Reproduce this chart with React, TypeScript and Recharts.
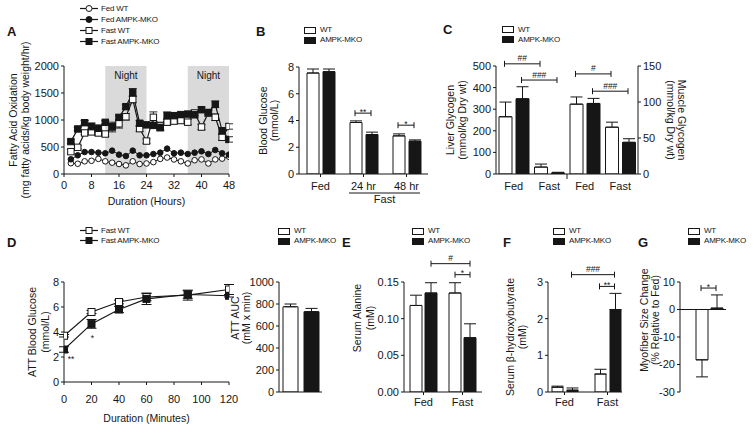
import React from "react";
import {
  LineChart, Line, BarChart, Bar, ComposedChart, XAxis, YAxis,
  ReferenceArea, ReferenceLine, ErrorBar, LabelList,
} from "recharts";

const FONT = '"Liberation Sans", Arial, Helvetica, sans-serif';
const INK = "#161616";
const SHADE = "#dadada";
const TICK = { fontSize: 11, fill: INK };

// ---------- A: fatty acid oxidation, every 2 h ----------
const hours = [2, 4, 6, 8, 10, 12, 14, 16, 18, 20, 22, 24, 26, 28, 30, 32, 34, 36, 38, 40, 42, 44, 46, 48];
const fedWT = [200, 190, 235, 245, 280, 235, 210, 185, 160, 235, 185, 195, 220, 280, 305, 270, 235, 195, 255, 270, 195, 270, 285, 320];
const fedKO = [272, 346, 407, 407, 395, 383, 432, 358, 333, 432, 346, 346, 370, 395, 469, 383, 395, 370, 395, 420, 370, 444, 383, 358];
const fastWT = [414, 494, 760, 780, 760, 740, 870, 930, 1060, 1380, 840, 610, 1050, 890, 960, 980, 990, 960, 1130, 870, 1130, 1050, 680, 880];
const fastWTErr = [40, 30, 30, 50, 50, 40, 90, 80, 60, 60, 50, 40, 100, 70, 60, 50, 50, 50, 50, 50, 60, 60, 60, 50];
const fastKO = [600, 834, 950, 876, 846, 957, 876, 1049, 1247, 1512, 940, 910, 900, 860, 1080, 1080, 1100, 1110, 1100, 1190, 1140, 1290, 800, 640];
const fastKOErr = [30, 30, 40, 70, 60, 30, 50, 40, 40, 70, 50, 40, 50, 60, 70, 60, 40, 40, 60, 50, 40, 60, 60, 50];
const aXTicks = [0, 8, 16, 24, 32, 40, 48];
const aYTicks = [0, 500, 1000, 1500, 2000];
const nights = [[12, 24], [36, 48]];

// ---------- B: blood glucose ----------
const bCats = ["Fed", "24 hr", "48 hr"];
const bWT = [7.55, 3.85, 2.85];
const bWTErr = [0.3, 0.12, 0.15];
const bKO = [7.65, 2.95, 2.45];
const bKOErr = [0.2, 0.18, 0.1];
const bYTicks = [0, 2, 4, 6, 8];
const bMarks = [
  { from: [1, 0], to: [1, 1], y: 4.55, text: "**" },
  { from: [2, 0], to: [2, 1], y: 3.65, text: "*" },
];

// ---------- C: liver / muscle glycogen ----------
const cCats = ["Fed", "Fast", "Fed", "Fast"];
const liverWT = [265, 32];
const liverWTErr = [68, 14];
const liverKO = [348, 5];
const liverKOErr = [56, 3];
const muscleWT = [97, 65];
const muscleWTErr = [10, 7];
const muscleKO = [98, 44];
const muscleKOErr = [7, 5];
const cLeftTicks = [0, 100, 200, 300, 400, 500];
const cRightTicks = [0, 50, 100, 150];
const cMarks = [
  { from: [0, 0], to: [1, 0], y: 510, text: "##" },
  { from: [0, 1], to: [1, 1], y: 435, text: "###" },
  { from: [2, 0], to: [3, 0], y: 139, text: "#", axis: "r" },
  { from: [2, 1], to: [3, 1], y: 115, text: "###", axis: "r" },
];

// ---------- D: alanine tolerance test ----------
const dMinutes = [0, 20, 40, 60, 90, 120];
const dWT = [3.7, 5.6, 6.4, 6.8, 6.95, 7.4];
const dWTErr = [0.1, 0.12, 0.15, 0.3, 0.4, 0.4];
const dKO = [2.6, 4.65, 5.8, 6.65, 7.0, 6.9];
const dKOErr = [0.22, 0.35, 0.25, 0.45, 0.3, 0.1];
const dSig = ["**", "*", "", "", "", ""];
const dXTicks = [0, 20, 40, 60, 80, 100, 120];
const dYTicks = [0, 2, 4, 6, 8];

const aucCats = [""];
const aucWT = [775];
const aucWTErr = [25];
const aucKO = [730];
const aucKOErr = [30];
const aucTicks = [0, 200, 400, 600, 800, 1000];

// ---------- E: serum alanine ----------
const eCats = ["Fed", "Fast"];
const eWT = [0.118, 0.135];
const eWTErr = [0.014, 0.014];
const eKO = [0.135, 0.074];
const eKOErr = [0.014, 0.019];
const eTicks = [0, 0.05, 0.1, 0.15];
const eMarks = [
  { from: [0, 1], to: [1, 1], y: 0.175, text: "#" },
  { from: [1, 0], to: [1, 1], y: 0.16, text: "*" },
];

// ---------- F: beta-hydroxybutyrate ----------
const fCats = ["Fed", "Fast"];
const fWT = [0.13, 0.49];
const fWTErr = [0.03, 0.13];
const fKO = [0.05, 2.25];
const fKOErr = [0.06, 0.44];
const fTicks = [0, 1, 2, 3];
const fMarks = [
  { from: [0, 1], to: [1, 1], y: 3.2, text: "###" },
  { from: [1, 0], to: [1, 1], y: 2.88, text: "**" },
];

// ---------- G: myofiber size ----------
const gWT = [-18.3];
const gWTErr = [6.2];
const gKO = [0.5];
const gKOErr = [4.8];
const gTicks = [-30, -20, -10, 0, 10];
const gMarks = [{ from: [0, 0], to: [0, 1], y: 7.8, text: "*" }];

// centre of a bar, in px from the plot's left edge (same rule recharts uses for barSize/barGap)
function barMid(g: any, cat: number, s: number) {
  const band = (g.pw - g.padL - g.padR) / g.n;
  const off = Math.floor((band - 2 * g.bar - g.gap) / 2);
  return g.padL + cat * band + off + g.bar / 2 + s * (g.bar + g.gap);
}

// significance bracket: ReferenceLine gives the y from the axis scale and the plot edges
const bracket = (m: any, g: any) => (p: any) => {
  const left = Math.min(p.x1, p.x2);
  const y = p.y1;
  const xa = left + barMid(g, m.from[0], m.from[1]);
  const xb = left + barMid(g, m.to[0], m.to[1]);
  const star = m.text.includes("*");
  return (
    <g>
      <line x1={xa} x2={xb} y1={y} y2={y} stroke={INK} />
      <line x1={xa} x2={xa} y1={y - 3} y2={y + 3} stroke={INK} />
      <line x1={xb} x2={xb} y1={y - 3} y2={y + 3} stroke={INK} />
      <text x={(xa + xb) / 2} y={star ? y + 1.5 : y - 2.5} textAnchor="middle" fontSize={8.5} fill={INK}>
        {m.text}
      </text>
    </g>
  );
};

function marks(list: any[], g: any) {
  return list.map((m, i) => (
    <ReferenceLine key={"mk" + i} y={m.y} yAxisId={m.axis ?? 0} ifOverflow="visible" shape={bracket(m, g)} />
  ));
}

// axis titles, placed in chart coordinates
const titles = (items: any[], cy: number) => () => (
  <g>
    {items.map(([t, x, rot]: any) => (
      <text
        key={t}
        x={x}
        y={cy}
        transform={`rotate(${rot ?? -90} ${x} ${cy})`}
        textAnchor="middle"
        dominantBaseline="central"
        fontSize={10.5}
        fill={INK}
      >
        {t}
      </text>
    ))}
  </g>
);

const xTitle = (text: string, x: number, y: number) => () => (
  <text x={x} y={y} textAnchor="middle" dominantBaseline="central" fontSize={10.5} fill={INK}>
    {text}
  </text>
);

const marker = (shape: string, filled: boolean, r: number) => (p: any) => {
  const { cx, cy, index } = p;
  if (cx == null || cy == null) return <g key={"m" + index} />;
  const fill = filled ? INK : "#fff";
  return shape === "circle" ? (
    <circle key={"m" + index} cx={cx} cy={cy} r={r} fill={fill} stroke={INK} strokeWidth={1} />
  ) : (
    <rect key={"m" + index} x={cx - r} y={cy - r} width={2 * r} height={2 * r} fill={fill} stroke={INK} strokeWidth={1} />
  );
};

function Letter({ ch, x, y }: any) {
  return (
    <div style={{ position: "absolute", left: x, top: y - 2, fontSize: 13, fontWeight: 700, lineHeight: "13px" }}>{ch}</div>
  );
}

function LineKey({ left, top, rowH, items }: any) {
  return (
    <div style={{ position: "absolute", left, top, fontSize: 8, letterSpacing: -0.2 }}>
      {items.map((it: any) => (
        <div key={it.label} style={{ display: "flex", alignItems: "center", height: rowH }}>
          <svg width={18} height={9} style={{ display: "block" }}>
            <line x1={0} x2={18} y1={4.5} y2={4.5} stroke={INK} strokeWidth={1.2} />
            {it.shape === "circle" ? (
              <circle cx={9} cy={4.5} r={3} fill={it.filled ? INK : "#fff"} stroke={INK} />
            ) : (
              <rect x={6} y={1.5} width={6} height={6} fill={it.filled ? INK : "#fff"} stroke={INK} />
            )}
          </svg>
          <span style={{ marginLeft: 3, lineHeight: `${rowH}px` }}>{it.label}</span>
        </div>
      ))}
    </div>
  );
}

function BoxKey({ left, top }: any) {
  return (
    <div style={{ position: "absolute", left, top, fontSize: 8, letterSpacing: -0.2 }}>
      {[["WT", "#fff"], ["AMPK-MKO", INK]].map(([t, c]) => (
        <div key={t} style={{ display: "flex", alignItems: "center", height: 10 }}>
          <span style={{ width: 10, height: 5, border: `1px solid ${INK}`, background: c, display: "inline-block" }} />
          <span style={{ marginLeft: 4, lineHeight: "10px" }}>{t}</span>
        </div>
      ))}
    </div>
  );
}

function PanelA() {
  const data = hours.map((h, i) => ({
    h, fedWT: fedWT[i], fedKO: fedKO[i],
    fastWT: fastWT[i], fastWTErr: fastWTErr[i], fastKO: fastKO[i], fastKOErr: fastKOErr[i],
  }));
  return (
    <div style={{ position: "absolute", left: 0, top: 40 }}>
      <LineChart width={240} height={172} data={data} margin={{ top: 26, right: 11, bottom: 2, left: 0 }}>
        {nights.map(([a, b]) => (
          <ReferenceArea
            key={a}
            x1={a}
            x2={b}
            fill={SHADE}
            fillOpacity={1}
            stroke="none"
            label={{ value: "Night", position: "insideTop", offset: 6, fontSize: 10, fill: INK }}
          />
        ))}
        <XAxis
          dataKey="h" type="number" domain={[0, 48]} ticks={aXTicks} interval={0} allowDataOverflow
          height={36} stroke={INK} tickSize={3} tickMargin={4} tick={TICK}
          label={xTitle("Duration (Hours)", 146.5, 161)}
        />
        <YAxis
          domain={[0, 2000]} ticks={aYTicks} interval={0} allowDataOverflow width={64}
          stroke={INK} tickSize={3} tickMargin={2} tick={TICK}
          label={titles([["Fatty Acid Oxidation", 13], ["(mg fatty acids/kg body weight/hr)", 25]], 80)}
        />
        <Line dataKey="fedWT" stroke={INK} strokeWidth={1} dot={marker("circle", false, 2.8)} isAnimationActive={false} />
        <Line dataKey="fedKO" stroke={INK} strokeWidth={1} dot={marker("circle", true, 2.8)} isAnimationActive={false} />
        <Line dataKey="fastWT" stroke={INK} strokeWidth={1.2} dot={marker("square", false, 3.2)} isAnimationActive={false}>
          <ErrorBar dataKey="fastWTErr" width={4} stroke={INK} strokeWidth={0.9} direction="y" />
        </Line>
        <Line dataKey="fastKO" stroke={INK} strokeWidth={1.2} dot={marker("square", true, 3.2)} isAnimationActive={false}>
          <ErrorBar dataKey="fastKOErr" width={4} stroke={INK} strokeWidth={0.9} direction="y" />
        </Line>
      </LineChart>
    </div>
  );
}

const bGeo = { pw: 129, n: 3, bar: 12, gap: 4, padL: 0, padR: 0 };

function BTick(p: any) {
  const { x, y, payload, index } = p;
  const band = bGeo.pw / bGeo.n;
  const off = Math.floor((band - 2 * bGeo.bar - bGeo.gap) / 2);
  const span = 2 * bGeo.bar + bGeo.gap;
  const last = index === bCats.length - 1;
  const x1 = x - band - band / 2 + off;
  const x2 = x - band / 2 + off + span;
  return (
    <g>
      <text x={x} y={y} dy="0.71em" textAnchor="middle" fontSize={11} fill={INK}>{payload.value}</text>
      {last && <line x1={x1} x2={x2} y1={y + 11} y2={y + 11} stroke={INK} />}
      {last && (
        <text x={(x1 + x2) / 2} y={y + 13} dy="0.71em" textAnchor="middle" fontSize={11} fill={INK}>Fast</text>
      )}
    </g>
  );
}

function BarPanel(props: any) {
  const { left, top, width, height, mt, mr, yw, xh, cats, wt, wtErr, ko, koErr, domain, ticks, fmt,
    title, tick, tickMargin, noX, geo, list } = props;
  const rows = cats.map((name: string, i: number) => ({
    name, wt: wt[i], wtErr: [0, wtErr[i]], ko: ko[i], koErr: [0, koErr[i]],
  }));
  return (
    <div style={{ position: "absolute", left, top }}>
      <BarChart width={width} height={height} data={rows} margin={{ top: mt, right: mr, bottom: 2, left: 0 }}
        barSize={geo.bar} barGap={geo.gap}>
        <XAxis
          dataKey="name" height={xh} stroke={INK} interval={0}
          tickSize={3} tickMargin={tickMargin} tickLine={!noX}
          tick={noX ? false : tick ?? TICK}
          padding={{ left: geo.padL, right: geo.padR }}
        />
        <YAxis
          width={yw} domain={domain} ticks={ticks} interval={0} allowDataOverflow tickFormatter={fmt}
          stroke={INK} tickSize={3} tickMargin={2} tick={TICK} label={title}
        />
        <Bar dataKey="wt" fill="#fff" stroke={INK} strokeWidth={1} isAnimationActive={false}>
          <ErrorBar dataKey="wtErr" width={6} stroke={INK} strokeWidth={1} direction="y" />
        </Bar>
        <Bar dataKey="ko" fill={INK} stroke={INK} strokeWidth={1} isAnimationActive={false}>
          <ErrorBar dataKey="koErr" width={6} stroke={INK} strokeWidth={1} direction="y" />
        </Bar>
        {marks(list, geo)}
      </BarChart>
    </div>
  );
}

const cGeo = { pw: 142, n: 4, bar: 13, gap: 4, padL: 0, padR: 0 };

function CTick(p: any) {
  const { x, y, payload, index } = p;
  const band = cGeo.pw / cGeo.n;
  return (
    <g>
      <text x={x} y={y} dy="0.71em" textAnchor="middle" fontSize={11} fill={INK}>{payload.value}</text>
      {index === 2 && <line x1={x - band / 2} x2={x - band / 2} y1={y - 8} y2={y - 3} stroke={INK} />}
    </g>
  );
}

function PanelC() {
  const k = 500 / 150;
  const rows = cCats.map((name, i) =>
    i < 2
      ? { name, wt: liverWT[i], wtErr: [0, liverWTErr[i]], ko: liverKO[i], koErr: [0, liverKOErr[i]] }
      : {
          name,
          wt: muscleWT[i - 2] * k, wtErr: [0, muscleWTErr[i - 2] * k],
          ko: muscleKO[i - 2] * k, koErr: [0, muscleKOErr[i - 2] * k],
          muscle: muscleWT[i - 2],
        }
  );
  return (
    <div style={{ position: "absolute", left: 440, top: 40 }}>
      <ComposedChart width={258} height={158} data={rows} margin={{ top: 26, right: 0, bottom: 2, left: 0 }}
        barSize={cGeo.bar} barGap={cGeo.gap}>
        <XAxis dataKey="name" height={22} stroke={INK} interval={0} tickSize={3} tickMargin={5} tickLine={false} tick={CTick} />
        <YAxis
          width={56} domain={[0, 500]} ticks={cLeftTicks} interval={0} allowDataOverflow
          stroke={INK} tickSize={3} tickMargin={2} tick={TICK}
          label={titles(
            [
              ["Liver Glycogen", 10],
              ["(mmol/kg Dry wt)", 22],
              ["Muscle Glycogen", 242, 90],
              ["(mmol/kg Dry wt) ", 231, 90],
            ],
            80
          )}
        />
        <YAxis
          yAxisId="r" orientation="right" width={60} domain={[0, 150]} ticks={cRightTicks} interval={0} allowDataOverflow
          stroke={INK} tickSize={3} tickMargin={2} tick={TICK}
        />
        <Bar dataKey="wt" fill="#fff" stroke={INK} strokeWidth={1} isAnimationActive={false}>
          <ErrorBar dataKey="wtErr" width={6} stroke={INK} strokeWidth={1} direction="y" />
        </Bar>
        <Bar dataKey="ko" fill={INK} stroke={INK} strokeWidth={1} isAnimationActive={false}>
          <ErrorBar dataKey="koErr" width={6} stroke={INK} strokeWidth={1} direction="y" />
        </Bar>
        <Line yAxisId="r" dataKey="muscle" stroke="none" dot={false} activeDot={false} legendType="none" isAnimationActive={false} />
        {marks(cMarks, cGeo)}
      </ComposedChart>
    </div>
  );
}

function sigLabel(p: any) {
  const { x, y, value, index } = p;
  if (!value) return null;
  const dx = index === 0 ? 7 : 1;
  const dy = index === 0 ? 9 : 14;
  return (
    <text key={"s" + index} x={x + dx} y={y + dy} textAnchor="middle" dominantBaseline="central" fontSize={8.5} fill={INK}>
      {value}
    </text>
  );
}

function PanelD() {
  const rows = dMinutes.map((m, i) => ({ m, wt: dWT[i], wtErr: dWTErr[i], ko: dKO[i], koErr: dKOErr[i], sig: dSig[i] }));
  return (
    <div style={{ position: "absolute", left: 0, top: 260 }}>
      <LineChart width={246} height={166} data={rows} margin={{ top: 22, right: 17, bottom: 2, left: 0 }}>
        <XAxis
          dataKey="m" type="number" domain={[0, 120]} ticks={dXTicks} interval={0} allowDataOverflow
          height={42} stroke={INK} tickSize={3} tickMargin={10} tick={TICK}
          label={xTitle("Duration (Minutes)", 146.5, 158)}
        />
        <YAxis
          domain={[0, 8]} ticks={dYTicks} interval={0} allowDataOverflow width={64}
          stroke={INK} tickSize={3} tickMargin={2} tick={TICK}
          label={titles([["ATT Blood Glucose", 32], ["(mmol/L)", 45]], 72)}
        />
        <Line dataKey="wt" stroke={INK} strokeWidth={1.2} dot={marker("square", false, 3.5)} isAnimationActive={false}>
          <ErrorBar dataKey="wtErr" width={5} stroke={INK} strokeWidth={1} direction="y" />
        </Line>
        <Line dataKey="ko" stroke={INK} strokeWidth={1.2} dot={marker("square", true, 3.5)} isAnimationActive={false}>
          <ErrorBar dataKey="koErr" width={5} stroke={INK} strokeWidth={1} direction="y" />
          <LabelList dataKey="sig" content={sigLabel} />
        </Line>
      </LineChart>
    </div>
  );
}

const aucGeo = { pw: 43, n: 1, bar: 15, gap: 6, padL: 0, padR: 0 };
const eGeo = { pw: 78, n: 2, bar: 12, gap: 3, padL: 0, padR: 0 };
const fGeo = { pw: 74, n: 2, bar: 11, gap: 4, padL: -5, padR: -7 };
const gGeo = { pw: 46, n: 1, bar: 12, gap: 3, padL: 12, padR: 0 };

function PanelG() {
  const rows = [{ name: "", wt: gWT[0], wtErr: [gWTErr[0], 0], ko: gKO[0], koErr: [0, gKOErr[0]] }];
  return (
    <div style={{ position: "absolute", left: 636, top: 250 }}>
      <BarChart width={100} height={152} data={rows} margin={{ top: 32, right: 10, bottom: 10, left: 0 }}
        barSize={gGeo.bar} barGap={gGeo.gap}>
        <XAxis dataKey="name" hide padding={{ left: gGeo.padL, right: gGeo.padR }} />
        <YAxis
          width={44} domain={[-30, 10]} ticks={gTicks} interval={0} allowDataOverflow
          stroke={INK} tickSize={3} tickMargin={2} tick={TICK}
          label={titles([["Myofiber Size Change", 8], ["(% Relative to Fed)", 19]], 70)}
        />
        <Bar dataKey="wt" fill="#fff" stroke={INK} strokeWidth={1} isAnimationActive={false}>
          <ErrorBar dataKey="wtErr" width={6} stroke={INK} strokeWidth={1} direction="y" />
        </Bar>
        <Bar dataKey="ko" fill={INK} stroke={INK} strokeWidth={1} isAnimationActive={false}>
          <ErrorBar dataKey="koErr" width={6} stroke={INK} strokeWidth={1} direction="y" />
        </Bar>
        <ReferenceLine y={0} stroke={INK} strokeWidth={1} />
        {marks(gMarks, gGeo)}
      </BarChart>
    </div>
  );
}

export default function App() {
  return (
    <div
      style={{
        position: "absolute", left: 0, top: 0, width: 754, height: 430, overflow: "hidden",
        background: "#fff", fontFamily: FONT, color: INK,
      }}
    >
      <PanelA />
      <BarPanel
        left={250} top={52} width={186} height={158} mt={15} mr={8} yw={49} xh={34}
        cats={bCats} wt={bWT} wtErr={bWTErr} ko={bKO} koErr={bKOErr}
        domain={[0, 8]} ticks={bYTicks} tick={BTick} tickMargin={5} geo={bGeo} list={bMarks}
        title={titles([["Blood Glucose", 13], ["(mmol/L)", 24]], 68.5)}
      />
      <PanelC />
      <PanelD />
      <BarPanel
        left={226} top={270} width={102} height={130} mt={12} mr={6} yw={53} xh={6}
        cats={aucCats} wt={aucWT} wtErr={aucWTErr} ko={aucKO} koErr={aucKOErr}
        domain={[0, 1000]} ticks={aucTicks} noX geo={aucGeo} list={[]}
        title={titles([["ATT AUC", 9], ["(mM x min)", 20]], 48)}
      />
      <BarPanel
        left={348} top={250} width={142} height={166} mt={32} mr={8} yw={56} xh={22}
        cats={eCats} wt={eWT} wtErr={eWTErr} ko={eKO} koErr={eKOErr}
        domain={[0, 0.15]} ticks={eTicks} fmt={(v: number) => v.toFixed(2)} tickMargin={3} geo={eGeo} list={eMarks}
        title={titles([["Serum Alanine", 9], ["(mM)", 22]], 68)}
      />
      <BarPanel
        left={500} top={250} width={128} height={166} mt={32} mr={6} yw={48} xh={22}
        cats={fCats} wt={fWT} wtErr={fWTErr} ko={fKO} koErr={fKOErr}
        domain={[0, 3]} ticks={fTicks} tickMargin={3} geo={fGeo} list={fMarks}
        title={titles([["Serum \u03b2-hydroxybutyrate", 10], ["(mM)", 22]], 87)}
      />
      <PanelG />

      <Letter ch="A" x={7} y={27} />
      <Letter ch="B" x={256} y={27} />
      <Letter ch="C" x={443} y={25} />
      <Letter ch="D" x={7} y={238} />
      <Letter ch="E" x={342} y={238} />
      <Letter ch="F" x={503} y={238} />
      <Letter ch="G" x={638} y={238} />

      <LineKey
        left={80} top={2.5} rowH={11}
        items={[
          { label: "Fed WT", shape: "circle", filled: false },
          { label: "Fed AMPK-MKO", shape: "circle", filled: true },
          { label: "Fast WT", shape: "square", filled: false },
          { label: "Fast AMPK-MKO", shape: "square", filled: true },
        ]}
      />
      <LineKey
        left={80} top={225.5} rowH={10}
        items={[
          { label: "Fast WT", shape: "square", filled: false },
          { label: "Fast AMPK-MKO", shape: "square", filled: true },
        ]}
      />
      <BoxKey left={304} top={25} />
      <BoxKey left={502} top={24.5} />
      <BoxKey left={278} top={226} />
      <BoxKey left={412} top={226} />
      <BoxKey left={553} top={226} />
      <BoxKey left={688} top={226} />
    </div>
  );
}
